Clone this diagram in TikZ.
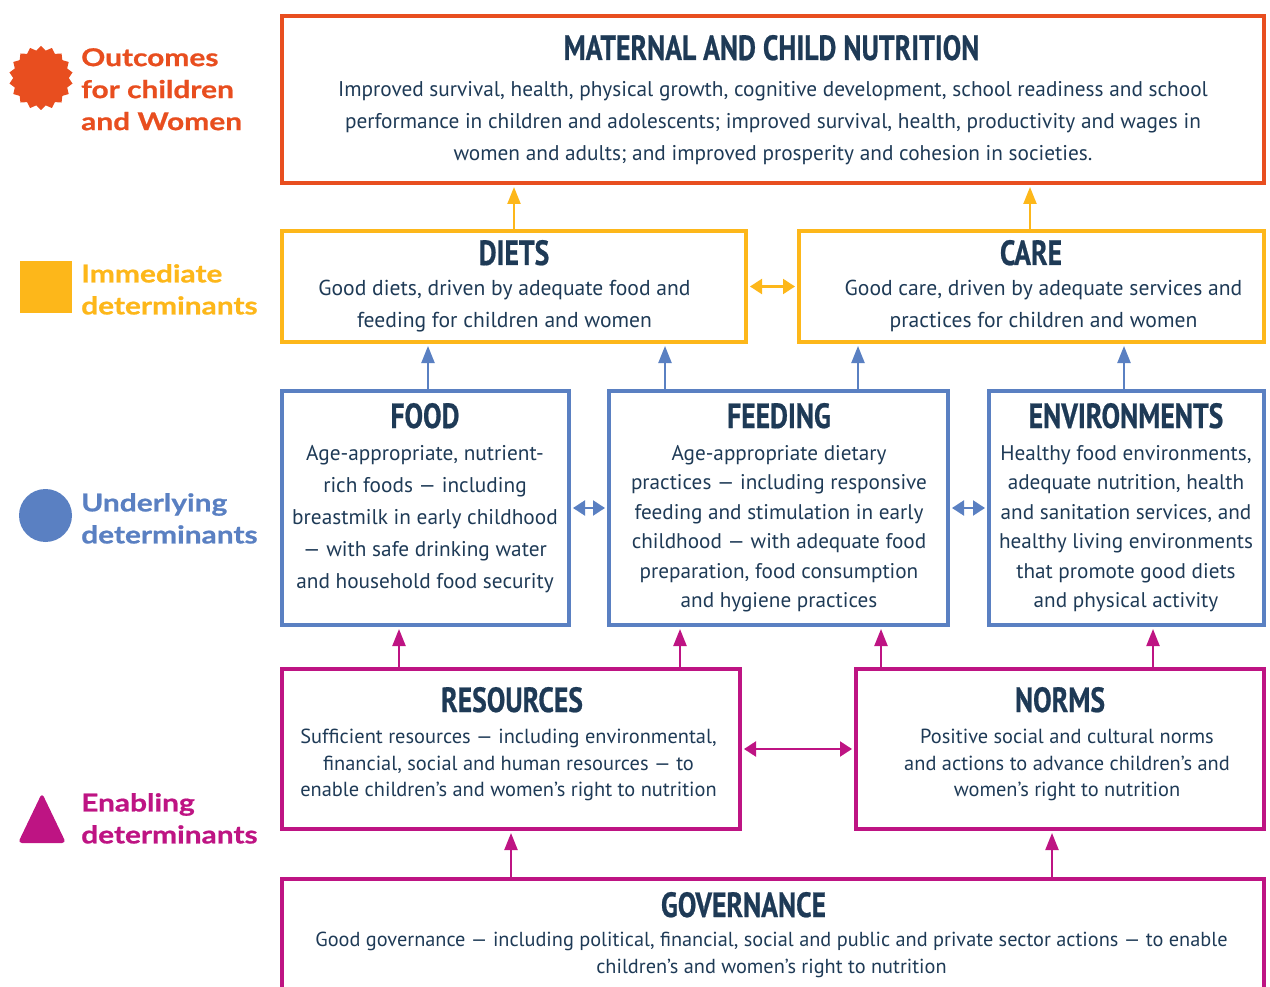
\documentclass[tikz,border=0pt]{standalone}
\usepackage{fontspec}
\setmainfont{PT Sans}
\newfontfamily\titlefont{PT Sans}[FakeStretch=0.79, FakeBold=0.6]
\newfontfamily\legendfont{Lato}[FakeStretch=1.22, FakeBold=0.8]
\usetikzlibrary{arrows.meta,shapes.geometric}

\definecolor{outc}{HTML}{E84E1F}
\definecolor{imm}{HTML}{FDB71A}
\definecolor{und}{HTML}{5A80C2}
\definecolor{enab}{HTML}{BE1483}
\definecolor{ink}{HTML}{1E3A56}

\tikzset{
  box/.style={draw, line width=4pt, inner sep=0pt},
  heading/.style={font=\titlefont\bfseries\fontsize{35}{35}\selectfont, text=ink, inner sep=0pt, anchor=base},
  body/.style={align=center, text=ink, inner sep=0pt, anchor=north},
  legendtext/.style={font=\legendfont\bfseries\fontsize{24.5}{32}\selectfont, align=left, inner sep=0pt, anchor=north west},
  tipup/.style={-{Triangle[length=17pt,width=13pt]}, line width=2.2pt, shorten >=2pt},
  tipboth/.style={{Triangle[length=12pt,width=15pt]}-{Triangle[length=12pt,width=15pt]}, line width=2.2pt, shorten >=2pt, shorten <=2pt},
}

\begin{document}
\begin{tikzpicture}[x=1pt,y=-1pt]
\clip (0,0) rectangle (1270,987);

% ---- legend ----
\node[star, star points=18, star point ratio=1.15, minimum size=64pt, fill=outc, inner sep=0pt] (sunmark) at (41,78) {};
\node[legendtext, text=outc] (outlabel) at (81,48) {Outcomes\\for children\\and Women};
\node[fill=imm, minimum size=52pt, inner sep=0pt] (sqmark) at (46,287) {};
\node[legendtext, text=imm] (immlabel) at (81,264) {Immediate\\determinants};
\node[circle, fill=und, minimum size=53pt, inner sep=0pt] (dotmark) at (45.5,515.5) {};
\node[legendtext, text=und] (undlabel) at (81,493) {Underlying\\determinants};
\fill[enab, rounded corners=4pt] (42,793) -- (66,843) -- (18,843) -- cycle;
\node[legendtext, text=enab] (enablabel) at (81,793) {Enabling\\determinants};

% ---- boxes ----
\node[box, draw=outc, minimum width=982pt, minimum height=167pt] (maternal) at (773,99.5) {};
\node[box, draw=imm, minimum width=464pt, minimum height=111pt] (diets) at (514,286.5) {};
\node[box, draw=imm, minimum width=465pt, minimum height=111pt] (care) at (1031.5,286.5) {};
\node[box, draw=und, minimum width=287pt, minimum height=234pt] (food) at (425.5,508) {};
\node[box, draw=und, minimum width=339pt, minimum height=234pt] (feeding) at (778.5,508) {};
\node[box, draw=und, minimum width=275pt, minimum height=234pt] (env) at (1126.5,508) {};
\node[box, draw=enab, minimum width=458pt, minimum height=160pt] (resources) at (511,749) {};
\node[box, draw=enab, minimum width=408pt, minimum height=160pt] (norms) at (1060,749) {};
\node[box, draw=enab, minimum width=982pt, minimum height=140pt] (governance) at (773,949) {};

% ---- headings ----
\node[heading] (maternalhead) at (771.5,60) {MATERNAL AND CHILD NUTRITION};
\node[heading] (dietshead) at (514,265) {DIETS};
\node[heading] (carehead) at (1031,265) {CARE};
\node[heading] (foodhead) at (425,428) {FOOD};
\node[heading] (feedinghead) at (779,428) {FEEDING};
\node[heading] (envhead) at (1126,428) {ENVIRONMENTS};
\node[heading] (resourceshead) at (512,712) {RESOURCES};
\node[heading] (normshead) at (1060,712) {NORMS};
\node[heading] (governancehead) at (743.5,917) {GOVERNANCE};

% ---- descriptions ----
\node[body, font=\fontsize{21.3}{32}\selectfont] (maternaltext) at (773,81)
  {Improved survival, health, physical growth, cognitive development, school readiness and school\\
   performance in children and adolescents; improved survival, health, productivity and wages in\\
   women and adults; and improved prosperity and cohesion in societies.};
\node[body, font=\fontsize{21.6}{32}\selectfont] (dietstext) at (504.5,280)
  {Good diets, driven by adequate food and\\feeding for children and women};
\node[body, font=\fontsize{21.6}{32}\selectfont] (caretext) at (1043.5,280)
  {Good care, driven by adequate services and\\practices for children and women};
\node[body, font=\fontsize{21.3}{32}\selectfont] (foodtext) at (425,445)
  {Age-appropriate, nutrient-\\rich foods — including\\breastmilk in early childhood\\— with safe drinking water\\and household food security};
\node[body, font=\fontsize{21.2}{29.5}\selectfont] (feedingtext) at (779,445)
  {Age-appropriate dietary\\practices — including responsive\\feeding and stimulation in early\\childhood — with adequate food\\preparation, food consumption\\and hygiene practices};
\node[body, font=\fontsize{21.2}{29.5}\selectfont] (envtext) at (1126,445)
  {Healthy food environments,\\adequate nutrition, health\\and sanitation services, and\\healthy living environments\\that promote good diets\\and physical activity};
\node[body, font=\fontsize{20.4}{26.5}\selectfont] (resourcestext) at (508.5,729)
  {Sufficient resources — including environmental,\\financial, social and human resources — to\\enable children’s and women’s right to nutrition};
\node[body, font=\fontsize{20.4}{26.5}\selectfont] (normstext) at (1067,729)
  {Positive social and cultural norms\\and actions to advance children’s and\\women’s right to nutrition};
\node[body, font=\fontsize{20.3}{27}\selectfont] (governancetext) at (771.5,932)
  {Good governance — including political, financial, social and public and private sector actions — to enable\\children’s and women’s right to nutrition};

% ---- connectors: immediate to outcomes ----
\draw[imm, tipup] (diets.north) -- (diets.north |- maternal.south);
\draw[imm, tipup] ([xshift=-1.5pt]care.north) -- ([xshift=-1.5pt]care.north |- maternal.south);
\draw[imm, tipboth] (diets.east) -- (care.west);

% ---- underlying to immediate ----
\coordinate (fd) at ([xshift=2.5pt]food.north);
\coordinate (fgl) at ([xshift=58pt]feeding.north west);
\coordinate (fgr) at ([xshift=-92pt]feeding.north east);
\coordinate (ev) at ([xshift=-2.5pt]env.north);
\draw[und, tipup] (fd) -- (fd |- diets.south);
\draw[und, tipup] (fgl) -- (fgl |- diets.south);
\draw[und, tipup] (fgr) -- (fgr |- care.south);
\draw[und, tipup] (ev) -- (ev |- care.south);
\draw[und, tipboth] (food.east) -- (feeding.west);
\draw[und, tipboth] (feeding.east) -- (env.west);

% ---- enabling to underlying ----
\coordinate (rs1) at ([xshift=119pt]resources.north west);
\coordinate (rs2) at ([xshift=400pt]resources.north west);
\coordinate (nm1) at ([xshift=27pt]norms.north west);
\coordinate (nm2) at ([xshift=-113pt]norms.north east);
\draw[enab, tipup] (rs1) -- (rs1 |- food.south);
\draw[enab, tipup] (rs2) -- (rs2 |- feeding.south);
\draw[enab, tipup] (nm1) -- (nm1 |- feeding.south);
\draw[enab, tipup] (nm2) -- (nm2 |- env.south);
\draw[enab, tipboth] (resources.east) -- (norms.west);

% ---- governance to resources and norms ----
\coordinate (gv1) at (governance.north -| resources.south);
\coordinate (gv2) at ([xshift=-8pt]governance.north -| norms.south);
\draw[enab, tipup] (gv1) -- (gv1 |- resources.south);
\draw[enab, tipup] (gv2) -- (gv2 |- norms.south);
\end{tikzpicture}
\end{document}
